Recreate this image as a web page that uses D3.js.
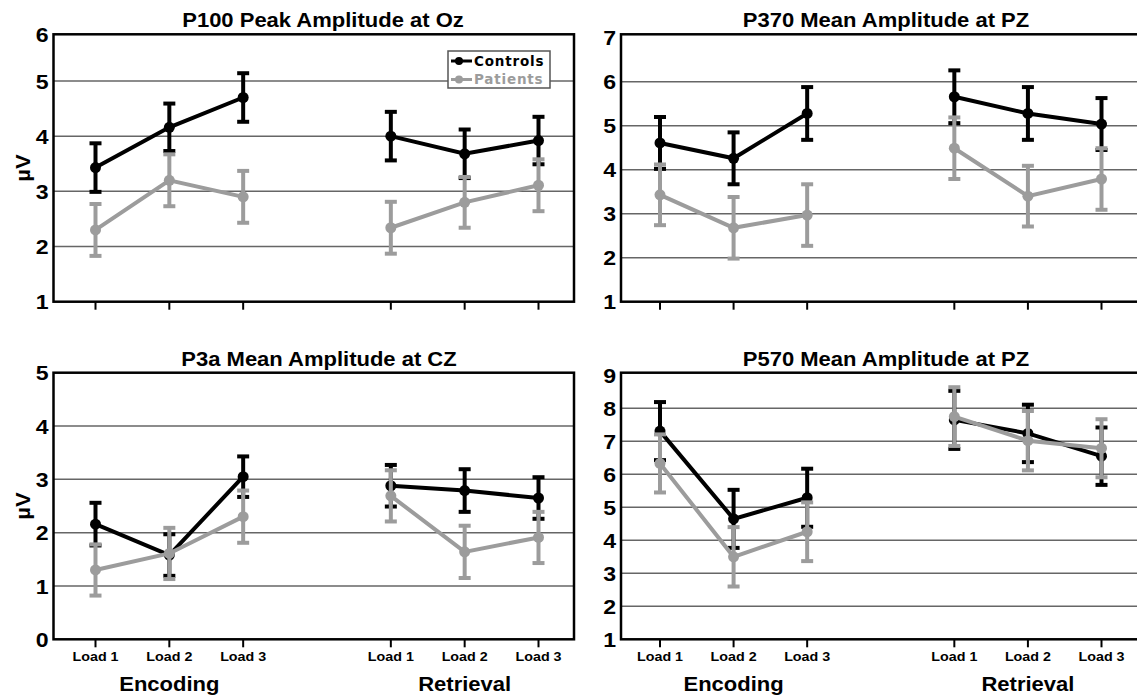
<!DOCTYPE html>
<html>
  <head>
    <meta charset="utf-8">
    <title>ERP amplitudes by load</title>
    <script src="https://d3js.org/d3.v7.min.js"></script>
    <style>
      body { margin: 0; background: #fff; }
      text { font-family: "Liberation Sans", Arial, sans-serif; font-weight: bold; fill: #000; }
    </style>
  </head>
  <body>
    <script>

      // categories
      var slots = ["E1", "E2", "E3", "gap", "R1", "R2", "R3"];
      var pointKeys = ["E1", "E2", "E3", "R1", "R2", "R3"];
      var loadLabels = ["Load 1", "Load 2", "Load 3", "Load 1", "Load 2", "Load 3"];
      var phaseLabels = ["Encoding", "Retrieval"];
      var seriesNames = ["Controls", "Patients"];

      // P100 peak amplitude at Oz
      var p100Controls   = [3.43, 4.16, 4.70, 4.00, 3.68, 3.92];
      var p100ControlsSE = [0.44, 0.43, 0.44, 0.44, 0.44, 0.43];
      var p100Patients   = [2.30, 3.20, 2.90, 2.34, 2.80, 3.11];
      var p100PatientsSE = [0.47, 0.47, 0.47, 0.47, 0.46, 0.47];

      // P370 mean amplitude at PZ
      var p370Controls   = [4.61, 4.26, 5.28, 5.66, 5.28, 5.04];
      var p370ControlsSE = [0.59, 0.59, 0.60, 0.60, 0.60, 0.59];
      var p370Patients   = [3.43, 2.68, 2.97, 4.49, 3.40, 3.79];
      var p370PatientsSE = [0.69, 0.70, 0.70, 0.70, 0.69, 0.70];

      // P3a mean amplitude at CZ
      var p3aControls   = [2.16, 1.58, 3.05, 2.88, 2.79, 2.65];
      var p3aControlsSE = [0.40, 0.39, 0.38, 0.39, 0.40, 0.39];
      var p3aPatients   = [1.30, 1.61, 2.30, 2.69, 1.64, 1.91];
      var p3aPatientsSE = [0.48, 0.48, 0.49, 0.48, 0.49, 0.48];

      // P570 mean amplitude at PZ
      var p570Controls   = [7.31, 4.65, 5.29, 7.65, 7.24, 6.55];
      var p570ControlsSE = [0.88, 0.88, 0.88, 0.88, 0.87, 0.87];
      var p570Patients   = [6.33, 3.50, 4.26, 7.75, 7.02, 6.79];
      var p570PatientsSE = [0.88, 0.90, 0.89, 0.89, 0.90, 0.88];

      // y tick labels per panel
      var p100Ticks = [1, 2, 3, 4, 5, 6];
      var p370Ticks = [1, 2, 3, 4, 5, 6, 7];
      var p3aTicks  = [0, 1, 2, 3, 4, 5];
      var p570Ticks = [1, 2, 3, 4, 5, 6, 7, 8, 9];

      var colors = { Controls: "#000", Patients: "#9c9c9c" };

      var panels = [
        { title: "P100 Peak Amplitude at Oz", controls: p100Controls, cSE: p100ControlsSE, patients: p100Patients, pSE: p100PatientsSE,
          ticks: p100Ticks, domain: [1, 5.845], left: 53.5, right: 574, top: 34.3, bottom: 301.7, x0: 95.5, x1: 538.5, titleX: 323, legend: true, xLabels: false, yLabel: true },
        { title: "P370 Mean Amplitude at PZ", controls: p370Controls, cSE: p370ControlsSE, patients: p370Patients, pSE: p370PatientsSE,
          ticks: p370Ticks, domain: [1, 7.08], left: 621, right: 1140, top: 34.3, bottom: 301.7, x0: 660, x1: 1101.5, titleX: 886, legend: false, xLabels: false, yLabel: false },
        { title: "P3a Mean Amplitude at CZ", controls: p3aControls, cSE: p3aControlsSE, patients: p3aPatients, pSE: p3aPatientsSE,
          ticks: p3aTicks, domain: [0, 5.0], left: 53.5, right: 574, top: 372.7, bottom: 639.3, x0: 95.5, x1: 538.5, titleX: 319, legend: false, xLabels: true, yLabel: true },
        { title: "P570 Mean Amplitude at PZ", controls: p570Controls, cSE: p570ControlsSE, patients: p570Patients, pSE: p570PatientsSE,
          ticks: p570Ticks, domain: [1, 9.08], left: 621, right: 1140, top: 372.7, bottom: 639.3, x0: 660, x1: 1101.5, titleX: 886, legend: false, xLabels: true, yLabel: false }
      ];

      var svg = d3.select("body")
                  .append("svg")
                  .attr("width", 1137)
                  .attr("height", 700);

      // the source figure is a little wider than tall, so text gets a small horizontal stretch
      var stretchX = 1.1;
      function wide(sel, fx, fy) {
        return sel.attr("transform", function(d, i) {
          return "translate(" + fx(d, i) + "," + fy(d, i) + ") scale(" + stretchX + ",1)";
        });
      }

      panels.forEach(function(p) {
        var g = svg.append("g");

        var x = d3.scalePoint().domain(slots).range([p.x0, p.x1]);
        var y = d3.scaleLinear().domain(p.domain).range([p.bottom, p.top]);

        // grid lines at inner ticks
        g.selectAll("line.grid")
          .data(p.ticks.filter(function(t) { return t > p.domain[0] && y(t) > p.top + 4; }))
          .enter().append("line")
          .attr("x1", p.left).attr("x2", p.right)
          .attr("y1", function(d) { return y(d); })
          .attr("y2", function(d) { return y(d); })
          .attr("stroke", "#666").attr("stroke-width", 1.5);

        // y labels (top one sits on the frame)
        wide(g.selectAll("text.ytick")
          .data(p.ticks)
          .enter().append("text"),
          function() { return p.left - 5; },
          function(d) { return Math.max(y(d), p.top); })
          .attr("dy", "0.36em")
          .attr("text-anchor", "end")
          .style("font-size", "21px")
          .text(function(d) { return d; });

        // x ticks
        g.selectAll("line.xtick")
          .data(pointKeys)
          .enter().append("line")
          .attr("x1", function(d) { return x(d); })
          .attr("x2", function(d) { return x(d); })
          .attr("y1", p.bottom).attr("y2", p.bottom + 8)
          .attr("stroke", "#000").attr("stroke-width", 2);

        if (p.xLabels) {
          wide(g.selectAll("text.xlab")
            .data(pointKeys)
            .enter().append("text"),
            function(d) { return x(d); },
            function() { return p.bottom + 22; })
            .attr("text-anchor", "middle")
            .style("font-size", "13px")
            .text(function(d, i) { return loadLabels[i]; });

          wide(g.selectAll("text.phase")
            .data(phaseLabels)
            .enter().append("text"),
            function(d, i) { return x(i == 0 ? "E2" : "R2"); },
            function() { return p.bottom + 52; })
            .attr("text-anchor", "middle")
            .style("font-size", "20px")
            .text(function(d) { return d; });
        }

        // title
        wide(g.append("text"), function() { return p.titleX; }, function() { return p.top - 7; })
          .attr("text-anchor", "middle")
          .style("font-size", "20px")
          .text(p.title);

        if (p.yLabel) {
          g.append("text")
            .attr("transform", "translate(" + 30 + "," + ((p.top + p.bottom) / 2) + ") rotate(-90) scale(1.1,1)")
            .attr("text-anchor", "middle")
            .style("font-size", "20px")
            .text("µV");
        }

        // series: controls first, patients drawn over them
        var series = [
          { name: "Controls", vals: p.controls, se: p.cSE },
          { name: "Patients", vals: p.patients, se: p.pSE }
        ];

        var line = d3.line()
          .x(function(d) { return x(d.key); })
          .y(function(d) { return y(d.v); });

        series.forEach(function(s) {
          var pts = pointKeys.map(function(k, i) { return { key: k, v: s.vals[i], se: s.se[i] }; });
          var col = colors[s.name];
          var sg = g.append("g");

          sg.append("path")
            .datum(pts.slice(0, 3))
            .attr("d", line)
            .attr("fill", "none").attr("stroke", col).attr("stroke-width", 4);
          sg.append("path")
            .datum(pts.slice(3))
            .attr("d", line)
            .attr("fill", "none").attr("stroke", col).attr("stroke-width", 4);

          var eb = sg.selectAll("g.err").data(pts).enter().append("g");
          eb.append("line")
            .attr("x1", function(d) { return x(d.key); })
            .attr("x2", function(d) { return x(d.key); })
            .attr("y1", function(d) { return y(d.v - d.se); })
            .attr("y2", function(d) { return y(d.v + d.se); })
            .attr("stroke", col).attr("stroke-width", 4);
          [-1, 1].forEach(function(sign) {
            eb.append("line")
              .attr("x1", function(d) { return x(d.key) - 6; })
              .attr("x2", function(d) { return x(d.key) + 6; })
              .attr("y1", function(d) { return y(d.v + sign * d.se); })
              .attr("y2", function(d) { return y(d.v + sign * d.se); })
              .attr("stroke", col).attr("stroke-width", 4);
          });

          sg.selectAll("circle")
            .data(pts)
            .enter().append("circle")
            .attr("cx", function(d) { return x(d.key); })
            .attr("cy", function(d) { return y(d.v); })
            .attr("r", 5.5)
            .attr("fill", col);
        });

        // frame
        g.append("rect")
          .attr("x", p.left).attr("y", p.top)
          .attr("width", p.right - p.left).attr("height", p.bottom - p.top)
          .attr("fill", "none").attr("stroke", "#000").attr("stroke-width", 2.5);

        if (p.legend) {
          var lg = g.append("g").attr("transform", "translate(448,51)");
          lg.append("rect")
            .attr("width", 102).attr("height", 37)
            .attr("fill", "#fff").attr("stroke", "#555").attr("stroke-width", 1.5);
          var rows = lg.selectAll("g.row").data(seriesNames).enter().append("g")
            .attr("transform", function(d, i) { return "translate(0," + (10 + i * 18.5) + ")"; });
          rows.append("line")
            .attr("x1", 3).attr("x2", 24).attr("y1", 0).attr("y2", 0)
            .attr("stroke", function(d) { return colors[d]; }).attr("stroke-width", 3);
          rows.append("circle")
            .attr("cx", 11).attr("cy", 0).attr("r", 4)
            .attr("fill", function(d) { return colors[d]; });
          rows.append("text")
            .attr("x", 26).attr("y", 0).attr("dy", "0.36em")
            .style("font-family", "'DejaVu Sans', sans-serif")
            .style("font-size", "13.5px")
            .style("letter-spacing", "0.8px")
            .style("fill", function(d) { return colors[d]; })
            .text(function(d) { return d; });
        }
      });

    </script>
  </body>
</html>
